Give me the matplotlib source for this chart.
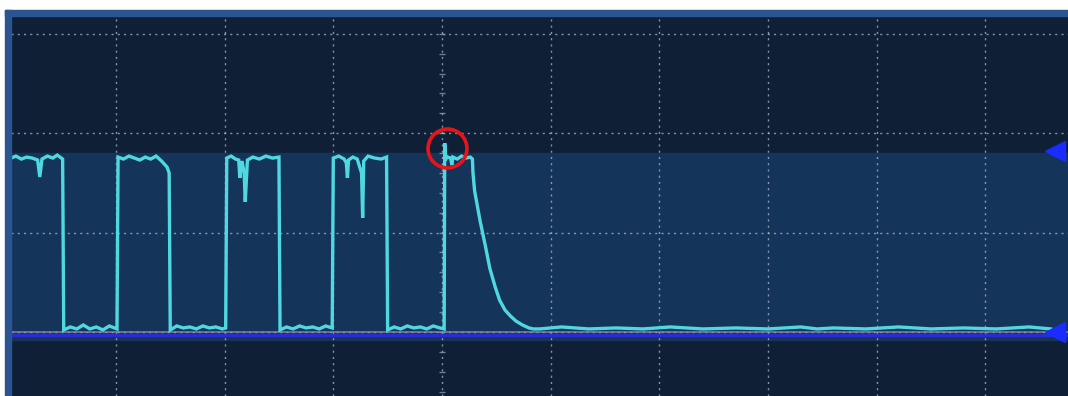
import numpy as np
import matplotlib.pyplot as plt
from matplotlib.patches import Rectangle

# screen range in divisions (time: 0 = trigger, volts: 0 = ground)
t_min, t_max = -3.965, 5.759
v_min, v_max = -0.645, 3.18
grid_t = [-3, -2, -1, 0, 1, 2, 3, 4, 5]
grid_v = [0, 1, 2, 3]

# trace (t in div, v in div)
p1_t = [-3.965, -3.92, -3.87, -3.82, -3.77, -3.72, -3.70, -3.68, -3.63, -3.58, -3.54, -3.49]
p1_v = [1.75, 1.77, 1.74, 1.76, 1.75, 1.73, 1.56, 1.74, 1.77, 1.75, 1.78, 1.74]
l1_t = [-3.48, -3.42, -3.36, -3.30, -3.24, -3.18, -3.12, -3.06, -2.99]
l1_v = [0.02, 0.05, 0.03, 0.07, 0.03, 0.05, 0.02, 0.06, 0.03]
p2_t = [-2.98, -2.93, -2.88, -2.83, -2.78, -2.73, -2.68, -2.63, -2.58, -2.53, -2.51]
p2_v = [1.76, 1.74, 1.77, 1.75, 1.73, 1.76, 1.74, 1.77, 1.72, 1.66, 1.60]
l2_t = [-2.50, -2.44, -2.38, -2.32, -2.26, -2.20, -2.14, -2.08, -2.02, -1.99]
l2_v = [0.02, 0.06, 0.04, 0.05, 0.03, 0.06, 0.04, 0.05, 0.03, 0.04]
p3_t = [-1.98, -1.94, -1.90, -1.87, -1.86, -1.84, -1.82, -1.81, -1.79, -1.74, -1.68, -1.62, -1.56, -1.50]
p3_v = [1.75, 1.77, 1.74, 1.73, 1.55, 1.72, 1.60, 1.31, 1.73, 1.76, 1.74, 1.77, 1.75, 1.76]
l3_t = [-1.49, -1.43, -1.37, -1.31, -1.25, -1.19, -1.13, -1.07, -1.01]
l3_v = [0.02, 0.05, 0.03, 0.06, 0.04, 0.05, 0.03, 0.06, 0.04]
p4_t = [-1.00, -0.95, -0.90, -0.88, -0.87, -0.86, -0.82, -0.78, -0.74, -0.73, -0.72, -0.68, -0.62, -0.56, -0.51]
p4_v = [1.75, 1.77, 1.74, 1.70, 1.55, 1.73, 1.76, 1.74, 1.60, 1.15, 1.72, 1.77, 1.75, 1.74, 1.76]
l4_t = [-0.50, -0.44, -0.38, -0.32, -0.26, -0.20, -0.14, -0.08, -0.02, 0.02]
l4_v = [0.02, 0.05, 0.03, 0.06, 0.04, 0.05, 0.03, 0.06, 0.04, 0.03]
p5_t = [0.025, 0.035, 0.05, 0.08, 0.09, 0.10, 0.14, 0.18, 0.22, 0.26, 0.28]
p5_v = [1.90, 1.74, 1.76, 1.75, 1.68, 1.76, 1.74, 1.77, 1.75, 1.76, 1.74]
decay_t = [0.285, 0.30, 0.35, 0.40, 0.44, 0.49, 0.53, 0.58, 0.63, 0.68, 0.74, 0.80, 0.84]
decay_v = [1.60, 1.42, 1.12, 0.86, 0.64, 0.45, 0.32, 0.22, 0.16, 0.11, 0.07, 0.04, 0.03]
l5_t = [0.90, 1.10, 1.35, 1.60, 1.85, 2.10, 2.40, 2.70, 3.00, 3.30, 3.45, 3.60, 3.90, 4.20, 4.50, 4.80, 5.10, 5.40, 5.60]
l5_v = [0.03, 0.05, 0.03, 0.04, 0.03, 0.05, 0.03, 0.04, 0.03, 0.05, 0.03, 0.04, 0.03, 0.05, 0.03, 0.04, 0.03, 0.05, 0.03]

trace_t = np.concatenate([p1_t, l1_t, p2_t, l2_t, p3_t, l3_t, p4_t, l4_t, p5_t, decay_t, l5_t])
trace_v = np.concatenate([p1_v, l1_v, p2_v, l2_v, p3_v, l3_v, p4_v, l4_v, p5_v, decay_v, l5_v])

marker_v = [1.82, 0.0]          # channel / trigger arrows on the right
circle_tv = (0.046, 1.853)      # red highlight around the spike

fig = plt.figure(figsize=(10.68, 3.96), dpi=100)
fig.patch.set_facecolor('white')

# blue bezel
fig.patches.append(Rectangle((5 / 1068, 0), 6 / 1068, 386 / 396, transform=fig.transFigure,
                             color='#2b5591', zorder=0))
fig.patches.append(Rectangle((5 / 1068, 380 / 396), 1, 6 / 396, transform=fig.transFigure,
                             color='#2b5591', zorder=0))

ax = fig.add_axes([11 / 1068, 0, 1057 / 1068, 380 / 396])
ax.set_facecolor('#0f1f35')
ax.set_xlim(t_min, t_max)
ax.set_ylim(v_min, v_max)
for s in ax.spines.values():
    s.set_visible(False)
ax.set_xticks([])
ax.set_yticks([])

# lighter band where the channel sits
ax.axhspan(-0.08, 1.80, color='#15345a', zorder=0)

for g in grid_t:
    ax.axvline(g, color='#a4b1c2', lw=1.0, ls=(0, (1.5, 3.0)), alpha=0.8, zorder=1)
for g in grid_v:
    ax.axhline(g, color='#a4b1c2', lw=1.0, ls=(0, (1.5, 3.0)), alpha=0.8, zorder=1)

# minor ticks on center axis
ticks = np.arange(-0.6, 3.2, 0.2)
ax.plot(np.zeros_like(ticks), ticks, ls='none', marker='_', ms=5, color='#9aa8ba', alpha=0.7, zorder=1)

# reference lines at ground
ax.axhline(0.0, color='#8d8fa8', lw=1.2, alpha=0.8, zorder=2)
ax.axhline(-0.035, color='#2a2ccf', lw=2.4, zorder=2)

ax.plot(trace_t, trace_v, color='#4fd8e0', lw=2.4, solid_joinstyle='miter', zorder=3)

ax.plot([t_max - 0.12] * 2, marker_v, ls='none', marker='<', ms=14, color='#1a2cff',
        clip_on=False, zorder=4)

ax.plot([circle_tv[0]], [circle_tv[1]], ls='none', marker='o', ms=28, mfc='none',
        mec='#e8141c', mew=2.6, zorder=5)

fig.savefig('out.png', dpi=100, facecolor='white')
